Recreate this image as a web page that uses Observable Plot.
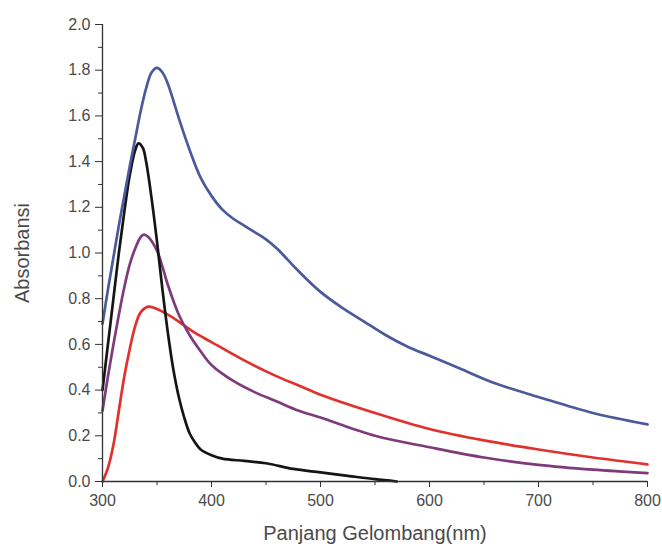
<!DOCTYPE html>
<html><head><meta charset="utf-8">
<script src="https://cdn.jsdelivr.net/npm/d3@7"></script>
<script src="https://cdn.jsdelivr.net/npm/@observablehq/plot@0.6"></script>
<style>body{margin:0;background:#fff}</style>
</head><body><div id="chart"></div><script>
const blueWl  = [300,305,310,315,320,325,330,335,340,345,350,355,360,370,380,390,400,410,420,430,440,450,460,470,480,500,520,540,560,580,600,630,660,700,750,800];
const blueAbs = [0.69,0.84,0.98,1.12,1.25,1.38,1.50,1.62,1.72,1.79,1.81,1.79,1.74,1.59,1.45,1.33,1.25,1.19,1.15,1.12,1.09,1.06,1.02,0.97,0.92,0.83,0.76,0.70,0.64,0.59,0.55,0.49,0.43,0.37,0.30,0.25];

const blackWl  = [300,305,310,315,320,325,330,333,337,340,345,350,355,360,365,370,375,380,385,390,400,410,430,450,475,500,525,550,570];
const blackAbs = [0.40,0.60,0.80,1.00,1.18,1.34,1.45,1.48,1.46,1.40,1.24,1.05,0.84,0.65,0.49,0.37,0.28,0.21,0.17,0.14,0.115,0.10,0.09,0.08,0.055,0.04,0.025,0.01,0.0];

const purpleWl  = [300,305,310,315,320,325,330,335,338,342,350,355,360,370,380,390,400,420,440,460,480,500,550,600,650,700,750,800];
const purpleAbs = [0.31,0.46,0.60,0.73,0.85,0.95,1.02,1.07,1.08,1.07,1.01,0.94,0.86,0.73,0.64,0.57,0.51,0.44,0.39,0.35,0.31,0.28,0.20,0.15,0.105,0.073,0.052,0.037];

const redWl  = [300,305,310,315,320,325,330,335,342,350,360,370,385,400,430,460,480,500,550,600,650,700,750,800];
const redAbs = [0.0,0.06,0.16,0.31,0.46,0.58,0.68,0.74,0.765,0.755,0.73,0.70,0.65,0.61,0.53,0.46,0.42,0.38,0.30,0.23,0.18,0.14,0.105,0.075];

const xTicks = [300,400,500,600,700,800];
const xMinor = [350,450,550,650,750];
const yTicks = [0,0.2,0.4,0.6,0.8,1.0,1.2,1.4,1.6,1.8,2.0];
const yMinor = [0.1,0.3,0.5,0.7,0.9,1.1,1.3,1.5,1.7,1.9];

const xLabel = "Panjang Gelombang(nm)";
const yLabel = "Absorbansi";

const series = [
  {wl: redWl, abs: redAbs, color: "#e2312d"},
  {wl: purpleWl, abs: purpleAbs, color: "#7d3b7c"},
  {wl: blackWl, abs: blackAbs, color: "#151515"},
  {wl: blueWl, abs: blueAbs, color: "#4b5a9b"}
];

const axisColor = "#333";
const textColor = "#4a4a4a";

const chart = Plot.plot({
  width: 662, height: 551,
  marginLeft: 102, marginRight: 15, marginTop: 24, marginBottom: 70,
  style: {fontFamily: "'Liberation Sans', Arial, sans-serif", background: "#fff"},
  x: {domain: [300, 800]},
  y: {domain: [0, 2]},
  marks: [
    ...series.map(s => Plot.line(s.abs, {x: s.wl, y: s.abs, stroke: s.color, strokeWidth: 2.7, curve: "catmull-rom"})),
    Plot.ruleX([300], {stroke: axisColor, strokeWidth: 1.3}),
    Plot.ruleY([0], {stroke: axisColor, strokeWidth: 1.3}),
    Plot.axisY({ticks: yTicks, tickFormat: d3.format(".1f"), tickSize: 7, tickPadding: 5, fontSize: 16, stroke: axisColor, fill: textColor, label: null}),
    Plot.axisY({ticks: yMinor, tickFormat: () => "", tickSize: 4, stroke: axisColor, label: null}),
    Plot.axisX({ticks: xTicks, tickFormat: d3.format("d"), tickSize: 6, tickPadding: 7, fontSize: 16, stroke: axisColor, fill: textColor, label: null}),
    Plot.axisX({ticks: xMinor, tickFormat: () => "", tickSize: 4, stroke: axisColor, label: null}),
    Plot.text([xLabel], {frameAnchor: "bottom", dy: 58, fontSize: 20, fill: textColor, textAnchor: "middle", text: d => d}),
    Plot.text([yLabel], {frameAnchor: "left", dx: -80, rotate: -90, fontSize: 20, fill: textColor, textAnchor: "middle", text: d => d})
  ]
});
document.getElementById("chart").append(chart);
</script></body></html>
